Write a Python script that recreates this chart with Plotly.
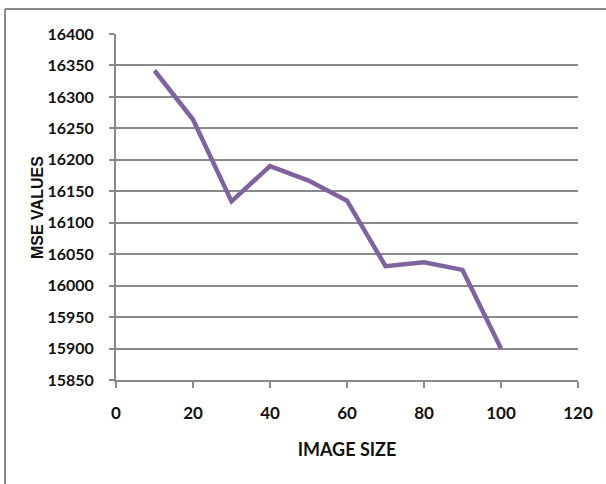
import plotly.graph_objects as go

image_size = [10, 20, 30, 40, 50, 60, 70, 80, 90, 100]
mse_values = [16342, 16264, 16134, 16190, 16167, 16135, 16031, 16037, 16025, 15900]
x_ticks = [0, 20, 40, 60, 80, 100, 120]
y_ticks = list(range(15850, 16401, 50))

W, H = 606, 484
L, R, T, B = 116, 28, 34, 104
pw, ph = W - L - R, H - T - B

def px_to_paper_x(px):
    return (px - L) / pw

def px_to_paper_y(py):
    return (H - B - py) / ph

font_tick = "Lato, Liberation Sans, sans-serif"
font_title = "Liberation Sans, Arial, sans-serif"
grey = "#8a8a8a"
text_col = "#111111"

fig = go.Figure()
fig.add_trace(go.Scatter(
    x=image_size, y=mse_values, mode="lines",
    line=dict(color="#7f63a1", width=4.5),
    showlegend=False, hoverinfo="x+y",
))

fig.update_layout(
    width=W, height=H,
    margin=dict(l=L, r=R, t=T, b=B),
    paper_bgcolor="white", plot_bgcolor="white",
    font=dict(family=font_tick, color=text_col),
    xaxis=dict(
        range=[0, 120], tickvals=x_ticks, ticktext=[str(v) for v in x_ticks],
        showgrid=False, zeroline=False,
        showline=True, linecolor=grey, linewidth=2,
        ticks="outside", ticklen=6, tickwidth=2, tickcolor=grey,
        tickfont=dict(family=font_tick, size=17, color=text_col, weight="bold"),
        ticklabelstandoff=11,
        title=dict(text="IMAGE SIZE", font=dict(family=font_tick, size=18, color=text_col, weight="bold"), standoff=21),
        fixedrange=True,
    ),
    yaxis=dict(
        range=[15850, 16400], tickvals=y_ticks, ticktext=[str(v) for v in y_ticks],
        showgrid=True, gridcolor=grey, gridwidth=2,
        zeroline=False,
        showline=True, linecolor=grey, linewidth=2,
        ticks="outside", ticklen=5, tickwidth=2, tickcolor=grey,
        tickfont=dict(family=font_tick, size=16, color=text_col, weight="bold"),
        ticklabelstandoff=12,
        fixedrange=True,
    ),
    annotations=[
        dict(text="MSE VALUES", textangle=-90, showarrow=False,
             xref="paper", yref="paper",
             x=px_to_paper_x(37), y=px_to_paper_y(208),
             xanchor="center", yanchor="middle",
             font=dict(family=font_title, size=16, color=text_col, weight="bold")),
    ],
    shapes=[
        dict(type="line", xref="paper", yref="paper",
             x0=px_to_paper_x(5), x1=px_to_paper_x(W + 5),
             y0=px_to_paper_y(9), y1=px_to_paper_y(9),
             line=dict(color=grey, width=2), layer="above"),
        dict(type="line", xref="paper", yref="paper",
             x0=px_to_paper_x(5), x1=px_to_paper_x(5),
             y0=px_to_paper_y(9), y1=px_to_paper_y(H + 5),
             line=dict(color=grey, width=2), layer="above"),
    ],
)

fig.write_html("out.html", config={"displayModeBar": False},
               post_script="document.body.style.margin='0';")
